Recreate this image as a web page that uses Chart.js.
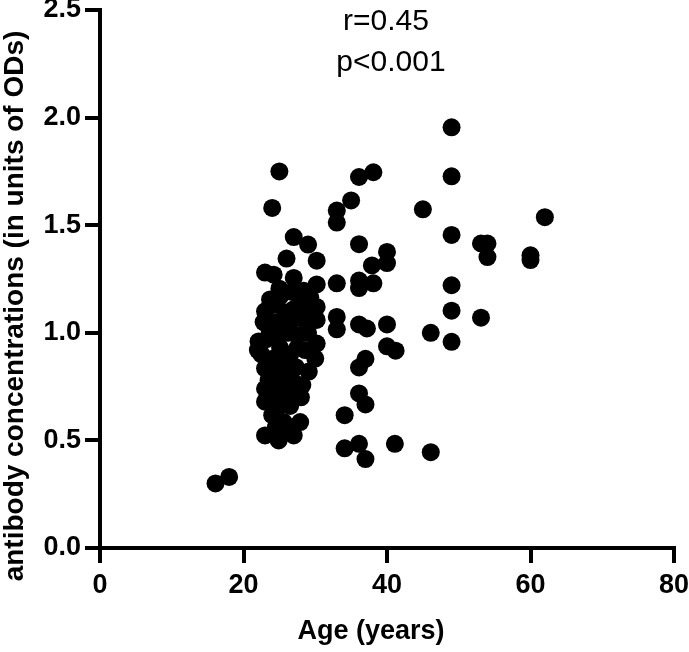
<!DOCTYPE html>
<html>
<head>
<meta charset="utf-8">
<script src="https://cdn.jsdelivr.net/npm/chart.js@4.4.1/dist/chart.umd.min.js"></script>
<style>
  html, body { margin: 0; padding: 0; background: #fff; }
  #wrap { width: 689px; height: 652px; }
</style>
</head>
<body>
<div id="wrap"><canvas id="myChart" width="689" height="652"></canvas></div>
<script>
// ages (years) and antibody concentrations (ODs)
const ages = [
  16.1, 18.0,
  25.0, 24.0, 27.0, 29.0, 26.0, 30.2, 23.0, 24.2, 27.0, 30.2, 25.0,
  23.7, 25.1, 26.8, 28.4, 29.3, 27.9,
  23.0, 22.8, 25.8, 30.2, 30.2, 27.9, 26.3, 24.4, 28.8, 29.5,
  22.1, 22.0, 24.7, 27.5, 30.2, 25.1, 27.5, 23.2, 29.0, 26.2, 23.6,
  24.2, 26.1, 23.0, 30.0, 29.1, 25.6, 27.3, 23.5,
  23.0, 24.7, 28.2, 26.1, 27.0, 24.0,
  23.0, 24.7, 26.5, 24.0, 25.6, 27.9, 23.0, 27.0, 24.9, 25.8, 24.5,
  22.5, 28.6, 25.5, 27.0, 24.0, 26.5, 28.0, 25.0,
  36.1, 38.1, 35.0, 33.0, 33.0, 36.1, 40.0, 40.0, 37.9, 33.0, 36.1, 36.1, 38.1,
  33.0, 33.0, 36.1, 37.2, 40.0, 40.0, 41.2, 37.0, 36.1, 36.1, 37.0, 34.1,
  34.1, 36.1, 37.0, 41.1,
  46.1, 49.0, 49.0, 45.0, 62.0, 49.0, 53.1, 54.0, 54.0, 60.0, 60.0, 49.0, 49.0,
  53.1, 46.1, 49.0
];
const antibody = [
  0.30, 0.33,
  1.75, 1.58, 1.445, 1.41, 1.345, 1.335, 1.28, 1.27, 1.255, 1.225, 1.205,
  1.155, 1.17, 1.19, 1.195, 1.165, 1.14,
  1.10, 1.05, 1.095, 1.12, 1.06, 1.07, 1.04, 1.13, 1.05, 1.09,
  0.96, 0.92, 0.99, 0.99, 0.95, 0.93, 0.93, 0.97, 1.00, 1.00, 1.02,
  0.88, 0.865, 0.835, 0.88, 0.82, 0.805, 0.84, 0.78,
  0.74, 0.755, 0.757, 0.71, 0.77, 0.70,
  0.68, 0.648, 0.66, 0.617, 0.585, 0.585, 0.523, 0.523, 0.50, 0.55, 0.56,
  0.90, 0.92, 1.06, 1.11, 1.05, 0.90, 0.70, 0.82,
  1.724, 1.746, 1.615, 1.568, 1.512, 1.412, 1.376, 1.324, 1.313, 1.23, 1.243, 1.208, 1.23,
  1.074, 1.016, 1.039, 1.02, 1.039, 0.937, 0.917, 0.879, 0.839, 0.718, 0.667, 0.617,
  0.463, 0.484, 0.413, 0.484,
  0.445, 1.955, 1.727, 1.574, 1.537, 1.455, 1.415, 1.415, 1.352, 1.36, 1.338, 1.221, 1.103,
  1.07, 1.00, 0.958
];
const xTicks = [0, 20, 40, 60, 80];
const yTicks = [0.0, 0.5, 1.0, 1.5, 2.0, 2.5];
const statLines = ["r=0.45", "p<0.001"];
const xTitle = "Age (years)";
const yTitle = "antibody concentrations (in units of ODs)";

const points = ages.map((a, i) => ({ x: a, y: antibody[i] }));
const tickFont = { family: "'Liberation Sans', Arial, sans-serif", size: 27, weight: "bold" };

// draws the r / p text and both axis titles
const textPlugin = {
  id: "texts",
  afterDraw(chart) {
    const ctx = chart.ctx;
    ctx.save();
    ctx.fillStyle = "#000";
    ctx.textAlign = "center";
    ctx.textBaseline = "alphabetic";
    ctx.font = "30px 'Liberation Sans', Arial, sans-serif";
    ctx.fillText(statLines[0], 386, 30);
    ctx.fillText(statLines[1], 391, 71);

    ctx.font = "bold 27px 'Liberation Sans', Arial, sans-serif";
    ctx.textBaseline = "middle";
    ctx.fillText(xTitle, 371, 632);

    ctx.font = "bold 28px 'Liberation Sans', Arial, sans-serif";
    ctx.translate(15, 306);
    ctx.rotate(-Math.PI / 2);
    ctx.fillText(yTitle, 0, 0);
    ctx.restore();
  },
};

const ctx = document.getElementById("myChart");
new Chart(ctx, {
  type: "scatter",
  data: {
    datasets: [
      {
        data: points,
        backgroundColor: "#000",
        borderColor: "#000",
        borderWidth: 0,
        pointRadius: 9,
        pointHoverRadius: 9,
      },
    ],
  },
  options: {
    responsive: false,
    animation: false,
    events: [],
    layout: { padding: { top: 10, right: 15, left: 0, bottom: 0 } },
    plugins: {
      legend: { display: false },
      tooltip: { enabled: false },
    },
    scales: {
      x: {
        type: "linear",
        min: 0,
        max: 80,
        afterFit(scale) {
          scale.height = 104;
          scale.paddingLeft = 0;
          scale.paddingRight = 0;
        },
        afterBuildTicks(scale) { scale.ticks = xTicks.map((v) => ({ value: v })); },
        border: { color: "#000", width: 4 },
        grid: { drawOnChartArea: false, drawTicks: true, tickLength: 15, color: "#000", lineWidth: 4 },
        ticks: { color: "#000", padding: 6, font: tickFont },
      },
      y: {
        type: "linear",
        min: 0,
        max: 2.5,
        afterFit(scale) {
          scale.width = 100;
          scale.paddingTop = 0;
          scale.paddingBottom = 0;
        },
        afterBuildTicks(scale) { scale.ticks = yTicks.map((v) => ({ value: v })); },
        border: { color: "#000", width: 4 },
        grid: { drawOnChartArea: false, drawTicks: true, tickLength: 15, color: "#000", lineWidth: 4 },
        ticks: {
          color: "#000",
          padding: 4,
          callback: (v) => v.toFixed(1),
          font: tickFont,
        },
      },
    },
  },
  plugins: [textPlugin],
});
</script>
</body>
</html>
